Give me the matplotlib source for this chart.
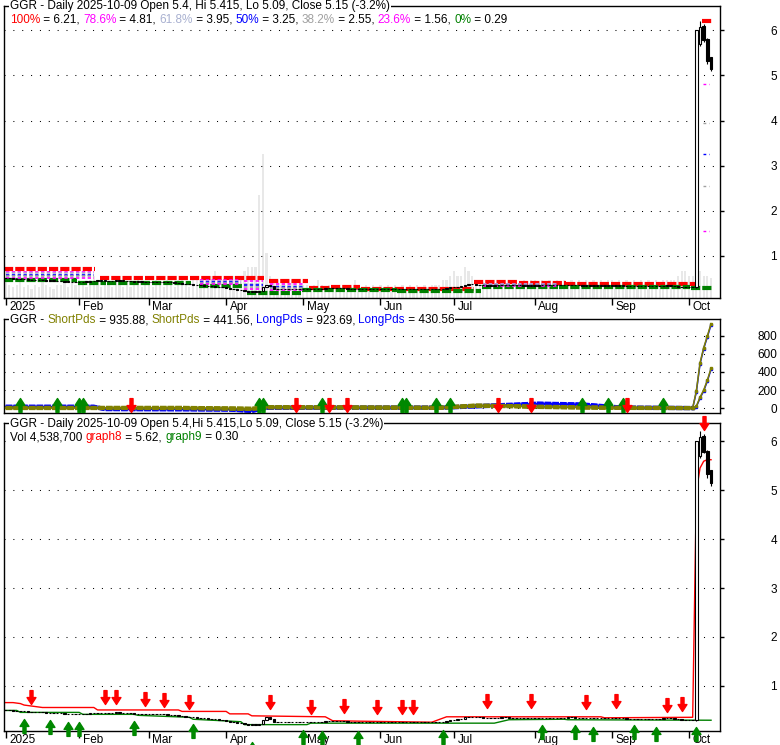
import numpy as np
import pandas as pd
import matplotlib
matplotlib.use("Agg")
import matplotlib.pyplot as plt
from matplotlib.path import Path
from matplotlib.patches import Rectangle
import matplotlib.transforms as mtrans

plt.rcParams['font.family'] = ['Liberation Sans', 'DejaVu Sans']
FS = 8.5

# ---------------- data ----------------
HOLIDAYS = ['2025-01-09', '2025-01-20', '2025-02-17', '2025-04-18',
            '2025-05-26', '2025-06-19', '2025-07-04', '2025-09-01']
START, END = '2025-01-02', '2025-10-09'

close_jan = [0.50, 0.50, 0.49, 0.49, 0.48, 0.48, 0.47, 0.47, 0.46, 0.46,
             0.46, 0.45, 0.45, 0.45, 0.44, 0.44, 0.43, 0.43, 0.42, 0.42]
close_feb = [0.42, 0.43, 0.43, 0.44, 0.45, 0.45, 0.45, 0.45, 0.44, 0.45,
             0.46, 0.45, 0.45, 0.44, 0.44, 0.43, 0.43, 0.43, 0.42]
close_mar = [0.42, 0.42, 0.42, 0.42, 0.42, 0.41, 0.41, 0.40, 0.39, 0.38,
             0.37, 0.37, 0.36, 0.35, 0.35, 0.34, 0.33, 0.33, 0.32, 0.31, 0.30]
close_apr = [0.29, 0.27, 0.26, 0.25, 0.24, 0.22, 0.21, 0.21, 0.21, 0.23,
             0.30, 0.36, 0.33, 0.27, 0.26, 0.26, 0.26, 0.26, 0.26, 0.26, 0.26]
close_may = [0.26, 0.26, 0.26, 0.26, 0.27, 0.27, 0.28, 0.28, 0.28, 0.28,
             0.28, 0.28, 0.27, 0.27, 0.27, 0.27, 0.27, 0.26, 0.26, 0.26, 0.26]
close_jun = [0.26, 0.26, 0.26, 0.26, 0.26, 0.26, 0.26, 0.26, 0.26, 0.26,
             0.26, 0.26, 0.26, 0.26, 0.26, 0.26, 0.27, 0.27, 0.28, 0.30]
close_jul = [0.31, 0.32, 0.33, 0.36, 0.37, 0.37, 0.36, 0.36, 0.35, 0.34, 0.34,
             0.35, 0.35, 0.36, 0.36, 0.35, 0.35, 0.35, 0.35, 0.34, 0.34, 0.34]
close_aug = [0.34, 0.35, 0.35, 0.35, 0.35, 0.35, 0.35, 0.35, 0.35, 0.36,
             0.36, 0.35, 0.35, 0.34, 0.35, 0.34, 0.34, 0.34, 0.34, 0.34, 0.34]
close_sep = [0.34, 0.34, 0.34, 0.34, 0.33, 0.33, 0.33, 0.33, 0.33, 0.33,
             0.33, 0.33, 0.33, 0.33, 0.34, 0.34, 0.34, 0.33, 0.32, 0.31, 0.30]
close_oct_pre = [0.30, 0.30]

last_open = [0.30, 5.70, 6.10, 5.80, 5.40]
last_high = [6.00, 6.21, 6.15, 5.82, 5.415]
last_low = [0.29, 5.65, 5.75, 5.25, 5.09]
last_close = [6.00, 6.08, 5.78, 5.32, 5.15]

# volume in millions
vol_jan = [4, 3, 2.5, 3, 4, 2.5, 3, 2, 3, 2.5, 4, 3, 2.5, 2, 3, 3, 3.5, 2.5, 4, 3]
vol_feb = [4, 3, 2.5, 4, 5, 3, 2.5, 4, 3, 2.5, 4, 3, 2.5, 3, 2.5, 3, 4, 2.5, 3]
vol_mar = [3, 2.5, 4, 3, 2.5, 4, 3, 2.5, 4, 4, 3, 2.5, 5, 4, 4, 3, 3, 5, 6, 4, 4]
vol_apr = [4, 4, 5, 4, 5, 6, 7, 7, 7, 23, 32, 10, 5, 4, 4, 3, 3, 3, 4, 3, 3]
vol_may = [3, 3, 2.5, 3, 4, 3, 2.5, 3, 2.5, 3, 2.5, 3, 3, 2.5, 4, 3, 2.5, 3, 2.5, 3, 2.5]
vol_jun = [3, 2.5, 3, 2.5, 3, 2.5, 3, 2.5, 3, 2.5, 3, 2.5, 3, 2.5, 3, 3, 3, 4, 4, 5]
vol_jul = [6, 5, 5, 7, 6, 5, 4, 4, 3.5, 4, 3.5, 4, 3.5, 4, 3.5, 4, 3.5, 4, 3.5, 4, 3.5, 4]
vol_aug = [4, 3.5, 4, 3.5, 4, 3.5, 4, 3.5, 4, 3.5, 4, 3.5, 4, 3.5, 4, 3.5, 4, 3.5, 4, 3.5, 4]
vol_sep = [4, 3.5, 4, 3.5, 4, 3.5, 4, 3.5, 4, 3.5, 4, 3.5, 4, 3.5, 4, 4, 4, 4, 5, 6, 6]
vol_oct = [5, 5, 6, 6, 5, 5, 4.5387]

# top-panel level segments (start date, end date, value)
red_seg_start = ['2025-01-02', '2025-02-11', '2025-04-17', '2025-05-05', '2025-05-13',
                 '2025-05-23', '2025-07-10', '2025-07-28', '2025-08-14', '2025-10-07']
red_seg_end = ['2025-02-07', '2025-04-15', '2025-05-02', '2025-05-12', '2025-05-22',
               '2025-07-09', '2025-07-25', '2025-08-13', '2025-10-03', '2025-10-09']
red_seg_val = [0.70, 0.51, 0.44, 0.294, 0.316, 0.258, 0.41, 0.39, 0.37, 6.21]

green_seg_start = ['2025-01-02', '2025-02-03', '2025-02-13', '2025-03-21', '2025-04-09',
                   '2025-05-01', '2025-06-09', '2025-07-14', '2025-08-12', '2025-10-02']
green_seg_end = ['2025-01-31', '2025-02-12', '2025-03-18', '2025-04-07', '2025-04-30',
                 '2025-06-06', '2025-07-11', '2025-08-11', '2025-10-01', '2025-10-09']
green_seg_val = [0.464, 0.39, 0.404, 0.33, 0.183, 0.24, 0.227, 0.316, 0.32, 0.29]

fib_seg_start = ['2025-01-02', '2025-03-21', '2025-04-08', '2025-04-17', '2025-07-14']
fib_seg_end = ['2025-02-07', '2025-04-07', '2025-04-15', '2025-05-01', '2025-08-11']
fib_seg_hi = [0.70, 0.51, 0.51, 0.44, 0.40]
fib_seg_lo = [0.464, 0.33, 0.183, 0.183, 0.316]
fib_levels = [0.786, 0.618, 0.50, 0.382, 0.236]
fib_colors = ['#ff00ff', '#a8b0d0', '#0000ff', '#a0a0a0', '#ff00ff']
fib_right = [6.21, 4.81, 3.95, 3.25, 2.55, 1.56]
fib_right_colors = ['#ff0000', '#ff00ff', '#a0a0a0', '#0000ff', '#a0a0a0', '#ff00ff']

# middle panel (date, value) vertices
mid_dates = ['2025-01-02', '2025-02-07', '2025-02-12', '2025-03-14', '2025-04-02', '2025-04-10',
             '2025-04-16', '2025-06-25', '2025-07-10', '2025-07-24', '2025-08-04', '2025-08-20',
             '2025-09-05', '2025-10-01', '2025-10-02', '2025-10-03', '2025-10-06', '2025-10-07',
             '2025-10-08', '2025-10-09']
sp1_vals = [2, 2, 2, 2, -4, -8, 10, 4, 28, 22, 15, 8, 3, 0, 0, 190, 500, 670, 800, 935.88]
sp2_vals = [0, 0, 0, 0, -6, -10, 8, 2, 25, 20, 12, 5, 1, 0, 0, 20, 120, 200, 310, 441.56]
lp1_vals = [15, 15, -10, -12, -15, -30, 5, 5, 22, 38, 50, 40, 5, 0, 0, 180, 490, 660, 790, 923.69]
lp2_vals = [12, 12, -12, -14, -18, -32, 2, 2, 18, 32, 45, 35, 2, 0, 0, 15, 110, 190, 300, 430.56]
N_FLAT = 15   # vertices belonging to the flat pre-October part

mid_up_dates = ['2025-01-08', '2025-01-24', '2025-02-03', '2025-02-04', '2025-04-14', '2025-04-15',
                '2025-05-08', '2025-06-10', '2025-06-11', '2025-06-24', '2025-06-30',
                '2025-08-20', '2025-08-29', '2025-09-05', '2025-09-22']
mid_dn_dates = ['2025-02-24', '2025-04-29', '2025-05-12', '2025-05-19', '2025-07-18',
                '2025-07-31', '2025-09-08']

# bottom panel lines (date, value) vertices
g8_dates = ['2025-01-02', '2025-01-06', '2025-01-08', '2025-01-10', '2025-01-17', '2025-02-07',
            '2025-02-10', '2025-03-13', '2025-03-14', '2025-04-01', '2025-04-02', '2025-04-09',
            '2025-04-10', '2025-05-09', '2025-05-13', '2025-05-23', '2025-06-23', '2025-06-27',
            '2025-08-27', '2025-08-28', '2025-10-02', '2025-10-03', '2025-10-06', '2025-10-07',
            '2025-10-08', '2025-10-09']
g8_vals = [0.66, 0.66, 0.64, 0.61, 0.56, 0.56, 0.51, 0.51, 0.48, 0.48, 0.43, 0.43, 0.39, 0.37,
           0.29, 0.28, 0.26, 0.37, 0.37, 0.35, 0.36, 4.97, 5.45, 5.59, 5.62, 5.62]
g9_dates = ['2025-01-02', '2025-01-07', '2025-01-08', '2025-02-03', '2025-02-04', '2025-02-25',
            '2025-02-26', '2025-03-18', '2025-03-19', '2025-04-07', '2025-04-08', '2025-05-02',
            '2025-05-05', '2025-07-17', '2025-07-23', '2025-08-13', '2025-08-14', '2025-10-09']
g9_vals = [0.50, 0.50, 0.46, 0.46, 0.42, 0.42, 0.40, 0.36, 0.32, 0.27, 0.21, 0.21,
           0.24, 0.24, 0.31, 0.32, 0.31, 0.30]

bot_dn_dates = ['2025-01-14', '2025-02-12', '2025-02-18', '2025-02-28', '2025-03-07',
                '2025-03-18', '2025-04-17', '2025-05-05', '2025-05-16', '2025-05-30',
                '2025-06-10', '2025-06-13', '2025-07-15', '2025-07-31', '2025-08-21',
                '2025-09-03', '2025-09-23', '2025-09-29', '2025-10-07']
bot_dn_vals = [0.633, 0.633, 0.633, 0.592, 0.578, 0.524, 0.524, 0.429, 0.456, 0.429,
               0.429, 0.429, 0.544, 0.544, 0.531, 0.544, 0.476, 0.497, 6.22]
bot_up_dates = ['2025-01-10', '2025-01-22', '2025-01-29', '2025-02-03', '2025-02-25',
                '2025-03-19', '2025-04-10', '2025-05-01', '2025-05-08', '2025-05-22',
                '2025-06-26', '2025-08-05', '2025-08-18', '2025-08-25', '2025-09-10',
                '2025-09-18', '2025-10-03']
bot_up_vals = [0.32, 0.306, 0.265, 0.265, 0.286, 0.218, -0.14, 0.10, 0.09, 0.09,
               0.10, 0.20, 0.20, 0.17, 0.20, 0.17, 0.17]

month_labels = ['2025', 'Feb', 'Mar', 'Apr', 'May', 'Jun', 'Jul', 'Aug', 'Sep', 'Oct']

# ---------------- helpers ----------------
days = pd.bdate_range(START, END)
days = days[~days.isin(pd.to_datetime(HOLIDAYS))]
pos = {d: i for i, d in enumerate(days)}


def ix(dates):
    return np.array([pos[pd.Timestamp(d)] for d in dates], dtype=float)


closes = (close_jan + close_feb + close_mar + close_apr + close_may + close_jun +
          close_jul + close_aug + close_sep + close_oct_pre)
opens = [closes[0]] + closes[:-1]
O = np.array(opens + last_open)
C = np.array(closes + last_close)
H = np.array([max(o, c) for o, c in zip(opens, closes)] + last_high)
L = np.array([min(o, c) for o, c in zip(opens, closes)] + last_low)
V = np.array(vol_jan + vol_feb + vol_mar + vol_apr + vol_may + vol_jun + vol_jul +
             vol_aug + vol_sep + vol_oct)
N = len(days)
X = np.arange(N)

month_first = []
for m in range(1, 11):
    month_first.append(next(i for i, d in enumerate(days) if d.month == m))

W, Hh = 780, 745
fig = plt.figure(figsize=(W / 100, Hh / 100), dpi=100)


def rect(l, t, r, b):
    return [l / W, (Hh - b) / Hh, (r - l) / W, (b - t) / Hh]


XL = (-0.46, 194.3)
ax_top = fig.add_axes(rect(4, 6, 719.5, 298))
ax_vol = fig.add_axes(rect(4, 6, 719.5, 298), sharex=ax_top)
ax_mid = fig.add_axes(rect(4, 319, 719.5, 413))
ax_bot = fig.add_axes(rect(4, 423, 719.5, 731))

ax_vol.set_zorder(0)
ax_top.set_zorder(1)
ax_top.patch.set_visible(False)
ax_vol.axis('off')
ax_vol.set_ylim(0, 65)
ax_vol.bar(X, V, width=0.6, color='#e8e8e8', zorder=0)


def dotted_grid(ax, ticks):
    for t in ticks:
        ax.axhline(t, color='black', lw=0.75, ls=(0, (1, 7.5)), zorder=0.5)


def candles(ax, lw=0.8):
    for i in range(N):
        o, h, l, c = O[i], H[i], L[i], C[i]
        ax.plot([i, i], [l, h], color='black', lw=lw, zorder=3, solid_capstyle='butt')
        up = c >= o
        lo, hi = min(o, c), max(o, c)
        ax.add_patch(Rectangle((i - 0.33, lo), 0.66, max(hi - lo, 0.004),
                               facecolor='white' if up else 'black',
                               edgecolor='black', lw=lw, zorder=4))


def style_axes(ax, yticks, ylim, xlabels=True):
    ax.set_xlim(*XL)
    ax.set_ylim(*ylim)
    for s in ax.spines.values():
        s.set_linewidth(1.0)
        s.set_color('black')
    ax.yaxis.tick_right()
    ax.set_yticks(yticks)
    ax.set_yticklabels([str(t) for t in yticks], ha='right')
    ax.tick_params(axis='y', direction='out', length=3, width=1, pad=38.5,
                   labelsize=FS, colors='black')
    if xlabels:
        ax.set_xticks(month_first)
        ax.set_xticklabels(month_labels, ha='left')
        ax.tick_params(axis='x', direction='out', length=5, width=1, pad=-2.5,
                       labelsize=FS)
        off = mtrans.ScaledTranslation(2.5 / 72, 0, fig.dpi_scale_trans)
        for lab in ax.get_xticklabels():
            lab.set_transform(lab.get_transform() + off)
    else:
        ax.set_xticks([])
    dotted_grid(ax, yticks)


# ---------- top panel ----------
style_axes(ax_top, [1, 2, 3, 4, 5, 6], (0.066, 6.54))
for s, e, v in zip(red_seg_start, red_seg_end, red_seg_val):
    a, b = ix([s, e])
    ax_top.plot([a - 0.4, b + 0.4], [v, v], color='#ff0000', lw=3,
                ls=(0, (2.2, 0.5)), solid_capstyle='butt', zorder=2)
for s, e, v in zip(green_seg_start, green_seg_end, green_seg_val):
    a, b = ix([s, e])
    ax_top.plot([a - 0.4, b + 0.4], [v, v], color='#008000', lw=3,
                ls=(0, (2.2, 0.5)), solid_capstyle='butt', zorder=2)
for s, e, hi, lo in zip(fib_seg_start, fib_seg_end, fib_seg_hi, fib_seg_lo):
    a, b = ix([s, e])
    for f, col in zip(fib_levels, fib_colors):
        v = lo + f * (hi - lo)
        ax_top.plot([a, b], [v, v], color=col, lw=1.2, ls=(0, (2, 1.5)), zorder=2)
a, b = ix(['2025-10-07', '2025-10-09'])
for v, col in zip(fib_right[1:], fib_right_colors[1:]):
    ax_top.plot([a - 0.3, b - 0.6], [v, v], color=col, lw=1, ls=(0, (2, 2)), zorder=2)
candles(ax_top)

# ---------- middle panel ----------
style_axes(ax_mid, [0, 200, 400, 600, 800], (-55, 988), xlabels=False)
mx = ix(mid_dates)
for vals, col, z in [(lp1_vals, '#0000ff', 2), (lp2_vals, '#0000ff', 2),
                     (sp1_vals, '#808000', 3), (sp2_vals, '#808000', 3)]:
    ax_mid.plot(mx, vals, color=col, lw=1.1, zorder=z)
    ax_mid.plot(mx[:N_FLAT], vals[:N_FLAT], color=col, lw=3, zorder=z,
                ls=(0, (1.6, 0.25)))
    ax_mid.plot(mx[N_FLAT - 1:], vals[N_FLAT - 1:], ls='none', marker='s', ms=1.8,
                color=col, zorder=z)

dn_verts = [(0, 0), (0.32, 0.5), (0.11, 0.5), (0.11, 1.0), (-0.11, 1.0),
            (-0.11, 0.5), (-0.32, 0.5), (0, 0)]
up_verts = [(x, -y) for x, y in dn_verts]
dn_marker = Path(dn_verts, closed=True)
up_marker = Path(up_verts, closed=True)
MS = 20
RED, GREEN = '#ff0000', '#008800'

xt = ax_mid.get_xaxis_transform()
ax_mid.plot(ix(mid_up_dates), [0.16] * len(mid_up_dates), ls='none', marker=up_marker,
            ms=MS, color=GREEN, mec=GREEN, transform=xt, clip_on=False, zorder=5)
ax_mid.plot(ix(mid_dn_dates), [0.01] * len(mid_dn_dates), ls='none', marker=dn_marker,
            ms=MS, color=RED, mec=RED, transform=xt, clip_on=False, zorder=5)

# ---------- bottom panel ----------
style_axes(ax_bot, [1, 2, 3, 4, 5, 6], (0.08, 6.37))
ax_bot.plot(ix(g8_dates), g8_vals, color='#ff0000', lw=1.0, zorder=2)
ax_bot.plot(ix(g9_dates), g9_vals, color='#008000', lw=1.0, zorder=2)
candles(ax_bot, lw=0.8)
ax_bot.plot(ix(bot_dn_dates), bot_dn_vals, ls='none', marker=dn_marker, ms=MS,
            color=RED, mec=RED, clip_on=False, zorder=6)
ax_bot.plot(ix(bot_up_dates), bot_up_vals, ls='none', marker=up_marker, ms=MS,
            color=GREEN, mec=GREEN, clip_on=False, zorder=6)


# ---------- legends ----------
def legend_line(x_px, y_px, pieces):
    t = None
    for s, col in pieces:
        kw = dict(fontsize=FS, color=col, va='center', ha='left', zorder=20,
                  bbox=dict(boxstyle='square,pad=0.05', fc='white', ec='none'))
        if t is None:
            t = fig.text(x_px / W, (Hh - y_px) / Hh, s, **kw)
        else:
            t = fig.add_artist(matplotlib.text.Annotation(s, xy=(1, 0.5), xycoords=t, **kw))
    return t


K = 'black'
legend_line(10, 6, [('GGR - Daily 2025-10-09 Open 5.4, Hi 5.415, Lo 5.09, Close 5.15 (-3.2%)', K)])
legend_line(10, 20, [('100%', '#ff0000'), (' = 6.21, ', K), ('78.6%', '#ff00ff'), (' = 4.81, ', K),
                     ('61.8%', '#a8b0d0'), (' = 3.95, ', K), ('50%', '#0000ff'), (' = 3.25, ', K),
                     ('38.2%', '#a0a0a0'), (' = 2.55, ', K), ('23.6%', '#ff00ff'), (' = 1.56, ', K),
                     ('0%', '#008000'), (' = 0.29', K)])
legend_line(10, 320, [('GGR - ', K), ('ShortPds', '#808000'), (' = 935.88, ', K),
                      ('ShortPds', '#808000'), (' = 441.56, ', K), ('LongPds', '#0000ff'),
                      (' = 923.69, ', K), ('LongPds', '#0000ff'), (' = 430.56', K)])
legend_line(10, 424, [('GGR - Daily 2025-10-09 Open 5.4,Hi 5.415,Lo 5.09, Close 5.15 (-3.2%)', K)])
legend_line(10, 437, [('Vol 4,538,700 ', K), ('graph8', '#ff0000'), (' = 5.62, ', K),
                      ('graph9', '#008000'), (' = 0.30', K)])

fig.savefig('out.png', dpi=100)
